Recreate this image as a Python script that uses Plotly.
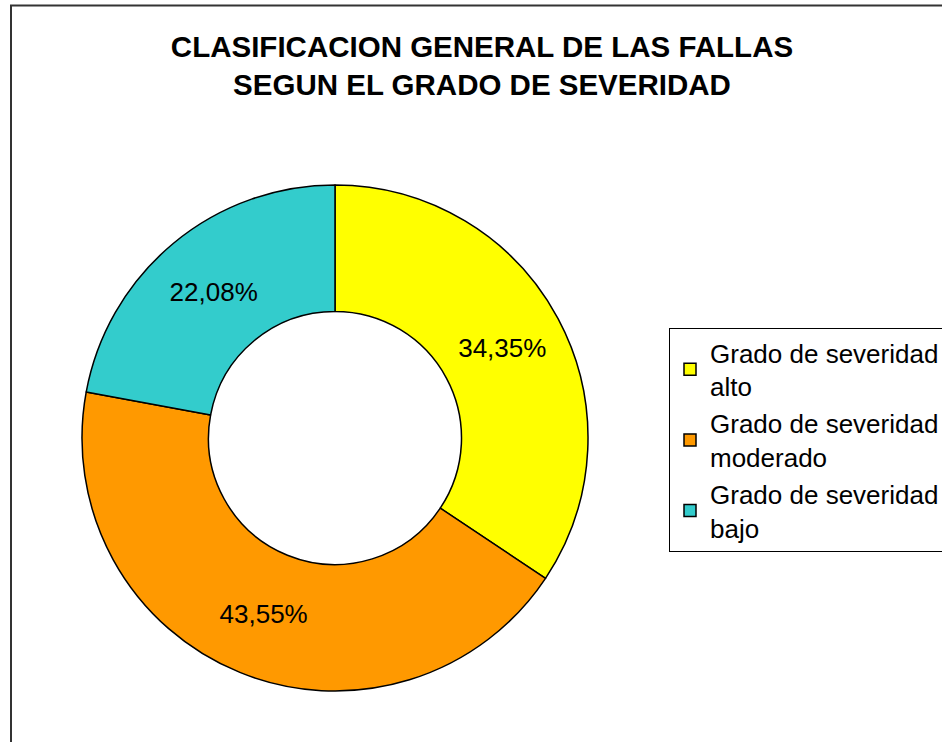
import plotly.graph_objects as go

# Data
categories = ["Grado de severidad<br>alto", "Grado de severidad<br>moderado", "Grado de severidad<br>bajo"]
values = [34.35, 43.55, 22.08]
colors = ["#FFFF00", "#FF9900", "#33CCCC"]
title_lines = ["CLASIFICACION GENERAL DE LAS FALLAS", "SEGUN EL GRADO DE SEVERIDAD"]

W, H = 942, 742
FONT = "Liberation Sans, Arial, sans-serif"

cx, cy, r = 335, 438, 253

text_labels = [f"{v:.2f}%".replace(".", ",") for v in values]

fig = go.Figure(go.Pie(
    labels=categories,
    values=values,
    text=text_labels,
    textinfo="text",
    textposition="inside",
    insidetextorientation="horizontal",
    textfont=dict(family=FONT, size=26, color="black"),
    marker=dict(colors=colors, line=dict(color="black", width=1.5)),
    hole=0.5,
    sort=False,
    direction="clockwise",
    rotation=0,
    hoverinfo="none",
    domain=dict(x=[(cx - r) / W, (cx + r) / W],
                y=[(H - cy - r) / H, (H - cy + r) / H]),
))

fig.update_layout(
    width=W, height=H,
    margin=dict(l=0, r=0, t=0, b=0, autoexpand=False),
    paper_bgcolor="white",
    plot_bgcolor="white",
    font=dict(family=FONT, color="black"),
    title=dict(
        text="<br>".join(title_lines),
        font=dict(family=FONT, size=29.5, color="black", weight="bold"),
        x=482 / W, xanchor="center",
        y=1 - 57 / H, yanchor="top",
        xref="paper", yref="container",
    ),
    showlegend=True,
    legend=dict(
        x=669 / W, xanchor="left",
        y=1 - 328 / H, yanchor="top",
        bgcolor="white",
        bordercolor="black",
        borderwidth=1,
        font=dict(family=FONT, size=26, color="black"),
        traceorder="normal",
    ),
    shapes=[dict(
        type="rect", xref="paper", yref="paper",
        x0=11 / W, x1=1.05, y0=-0.05, y1=1 - 5.5 / H,
        line=dict(color="#333333", width=2),
        fillcolor="rgba(0,0,0,0)",
        layer="above",
    )],
)

fig.write_html(
    "out.html",
    config={"displayModeBar": False},
    post_script="document.body.style.margin='0';document.body.style.overflow='hidden';",
)
